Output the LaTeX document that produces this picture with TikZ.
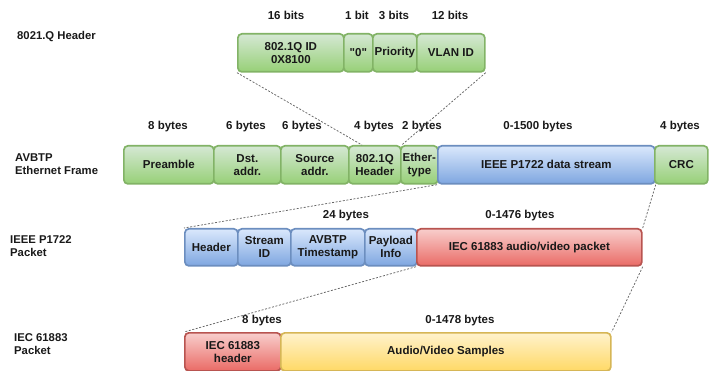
\documentclass[tikz,border=0pt]{standalone}
\usepackage{fontspec}
\newfontfamily\diagfont{Liberation Sans}
\usetikzlibrary{positioning}

\definecolor{grntop}{HTML}{D5E8D4}
\definecolor{grnbot}{HTML}{97D077}
\definecolor{grnline}{HTML}{82B366}
\definecolor{blutop}{HTML}{DAE8FC}
\definecolor{blubot}{HTML}{7EA6E0}
\definecolor{bluline}{HTML}{6C8EBF}
\definecolor{redtop}{HTML}{F8CECC}
\definecolor{redbot}{HTML}{EA6B66}
\definecolor{redline}{HTML}{B85450}
\definecolor{yeltop}{HTML}{FFF2CC}
\definecolor{yelbot}{HTML}{FFD966}
\definecolor{yelline}{HTML}{D6B656}

\tikzset{
  field/.style={line width=1.7pt, rounded corners=4pt, anchor=north west,
    minimum height=38pt, align=center, inner sep=1pt, text=black!90,
    font=\diagfont\bfseries\fontsize{11.5}{13}\selectfont},
  grnfield/.style={field, top color=grntop, bottom color=grnbot, draw=grnline},
  blufield/.style={field, top color=blutop, bottom color=blubot, draw=bluline},
  redfield/.style={field, top color=redtop, bottom color=redbot, draw=redline},
  yelfield/.style={field, top color=yeltop, bottom color=yelbot, draw=yelline},
  size/.style={inner sep=0pt, text=black!90, font=\diagfont\bfseries\fontsize{11.5}{13}\selectfont},
  rowname/.style={anchor=west, align=left, inner sep=0pt, text=black!90,
    font=\diagfont\bfseries\fontsize{11.3}{13.5}\selectfont},
  zoomline/.style={draw=black!60, line width=0.75pt, dash pattern=on 2pt off 1.6pt}
}

\begin{document}
\begin{tikzpicture}[x=1pt,y=-1pt]
  \useasboundingbox (0,0) rectangle (725,371);

  % row names
  \node[rowname] (n1) at (17,37) {8021.Q Header};
  \node[rowname] (n2) at (15,164) {AVBTP\\Ethernet Frame};
  \node[rowname] (n3) at (10,246) {IEEE P1722\\Packet};
  \node[rowname] (n4) at (14,344) {IEC 61883\\Packet};

  % 802.1Q header
  \node[grnfield, minimum width=106pt] (qid) at (237,33) {802.1Q ID\\0X8100};
  \node[grnfield, minimum width=29pt] (zero) at (343,33) {{"}0{"}};
  \node[grnfield, minimum width=44pt] (prio) at (372,33) {Priority};
  \node[grnfield, minimum width=68pt] (vlan) at (416,33) {VLAN ID};
  \node[size] (s1a) at (286,15) {16 bits};
  \node[size] (s1b) at (357,15) {1 bit};
  \node[size] (s1c) at (394,15) {3 bits};
  \node[size] (s1d) at (450,15) {12 bits};

  % AVBTP ethernet frame
  \node[grnfield, minimum width=90pt] (pre) at (123,145) {Preamble};
  \node[grnfield, minimum width=67pt] (dst) at (213,145) {Dst.\\addr.};
  \node[grnfield, minimum width=68pt] (src) at (280,145) {Source\\addr.};
  \node[grnfield, minimum width=52pt] (qhdr) at (348,145) {802.1Q\\Header};
  \node[grnfield, minimum width=37pt] (etype) at (400,145) {Ether-\\type};
  \node[blufield, minimum width=217pt] (stream) at (437,145) {IEEE P1722 data stream};
  \node[grnfield, minimum width=53pt] (crc) at (654,145) {CRC};
  \node[size] (s2a) at (168,127) {8 bytes};
  \node[size] (s2b) at (246,127) {6 bytes};
  \node[size] (s2c) at (302,127) {6 bytes};
  \node[size] (s2d) at (374,127) {4 bytes};
  \node[size] (s2e) at (422,127) {2 bytes};
  \node[size] (s2f) at (538,127) {0-1500 bytes};
  \node[size] (s2g) at (680,127) {4 bytes};

  % IEEE P1722 packet
  \node[blufield, minimum width=53pt, minimum height=37pt] (hdr) at (184,228) {Header};
  \node[blufield, minimum width=53pt, minimum height=37pt] (sid) at (237,228) {Stream\\ID};
  \node[blufield, minimum width=74pt, minimum height=37pt] (ts) at (290,228) {AVBTP\\Timestamp};
  \node[blufield, minimum width=52pt, minimum height=37pt] (pinfo) at (364,228) {Payload\\Info};
  \node[redfield, minimum width=225pt, minimum height=37pt] (avpkt) at (416,228) {IEC 61883 audio/video packet};
  \node[size] (s3a) at (346,216) {24 bytes};
  \node[size] (s3b) at (520,216) {0-1476 bytes};

  % IEC 61883 packet
  \node[redfield, minimum width=96pt] (iechdr) at (184,332) {IEC 61883\\header};
  \node[yelfield, minimum width=330pt] (samples) at (280,332) {Audio/Video Samples};
  \node[size] (s4a) at (262,321) {8 bytes};
  \node[size] (s4b) at (460,321) {0-1478 bytes};

  % zoom lines
  \draw[zoomline] (qid.south west) -- ([xshift=14pt]qhdr.north west);
  \draw[zoomline] (vlan.south east) -- (qhdr.north east);
  \draw[zoomline] (stream.south west) -- (hdr.north west);
  \draw[zoomline] (stream.south east) -- (avpkt.north east);
  \draw[zoomline] (avpkt.south west) -- (iechdr.north west);
  \draw[zoomline] (avpkt.south east) -- (samples.north east);
\end{tikzpicture}
\end{document}
